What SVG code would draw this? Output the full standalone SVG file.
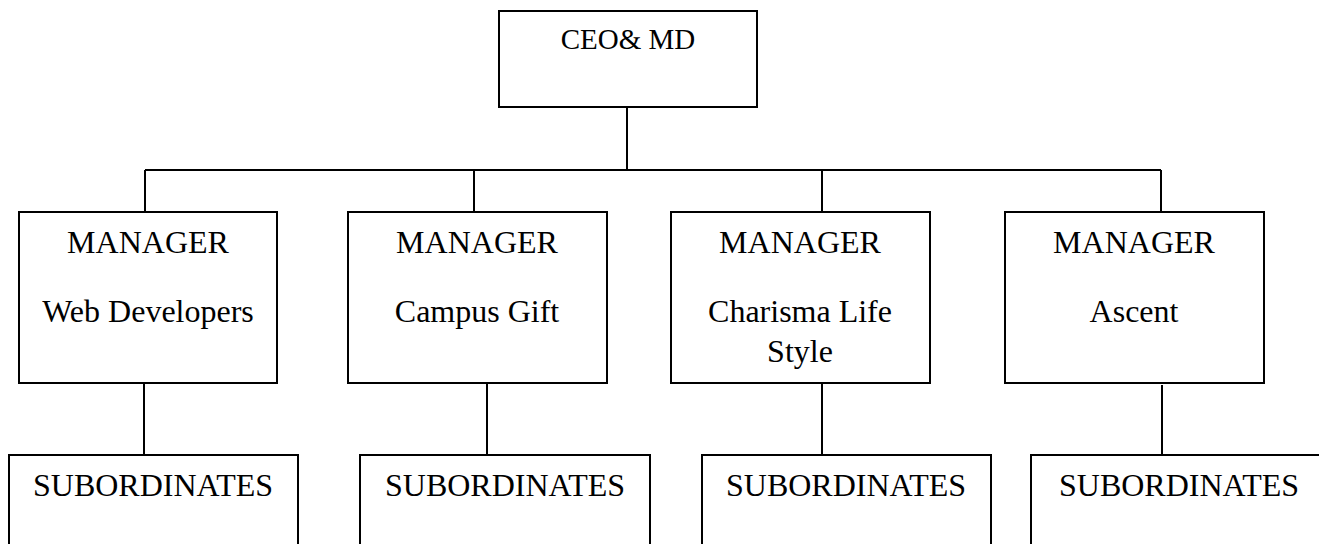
<svg xmlns="http://www.w3.org/2000/svg" width="1319" height="544" viewBox="0 0 1319 544">
<style>
.box{fill:#fff;stroke:#000;stroke-width:2}
.ln{fill:none;stroke:#000;stroke-width:2}
text{font-family:"Liberation Serif","Times New Roman",serif;fill:#000;text-anchor:middle}
.t{font-size:32px}
.c{font-size:29px}
</style>
<rect width="1319" height="544" fill="#fff"/>
<g id="connectors">
<path class="ln" d="M627 107V170M145 170H1161M145 170V212M474 170V212M822 170V212M1161 170V212"/>
<path class="ln" d="M144 383V455M487 384V455M822 381V455M1162 385V456"/>
</g>
<g id="ceo"><rect class="box" x="499" y="11" width="258" height="96"/><text class="c" x="628" y="49">CEO&amp; MD</text></g>
<g id="mgr-web"><rect class="box" x="19" y="212" width="258" height="171"/><text class="t" x="148" y="253">MANAGER</text><text class="t" x="148" y="322">Web Developers</text></g>
<g id="mgr-campus"><rect class="box" x="348" y="212" width="259" height="171"/><text class="t" x="477" y="253">MANAGER</text><text class="t" x="477" y="322">Campus Gift</text></g>
<g id="mgr-charisma"><rect class="box" x="671" y="212" width="259" height="171"/><text class="t" x="800" y="253">MANAGER</text><text class="t" x="800" y="322">Charisma Life</text><text class="t" x="800" y="362">Style</text></g>
<g id="mgr-ascent"><rect class="box" x="1005" y="212" width="259" height="171"/><text class="t" x="1134" y="253">MANAGER</text><text class="t" x="1134" y="322">Ascent</text></g>
<g id="sub-1"><rect class="box" x="9" y="455" width="289" height="110"/><text class="t" x="153" y="496">SUBORDINATES</text></g>
<g id="sub-2"><rect class="box" x="360" y="455" width="290" height="110"/><text class="t" x="505" y="496">SUBORDINATES</text></g>
<g id="sub-3"><rect class="box" x="702" y="455" width="289" height="110"/><text class="t" x="846" y="496">SUBORDINATES</text></g>
<g id="sub-4"><rect class="box" x="1031" y="455" width="300" height="110"/><text class="t" x="1179" y="496">SUBORDINATES</text></g>
</svg>
